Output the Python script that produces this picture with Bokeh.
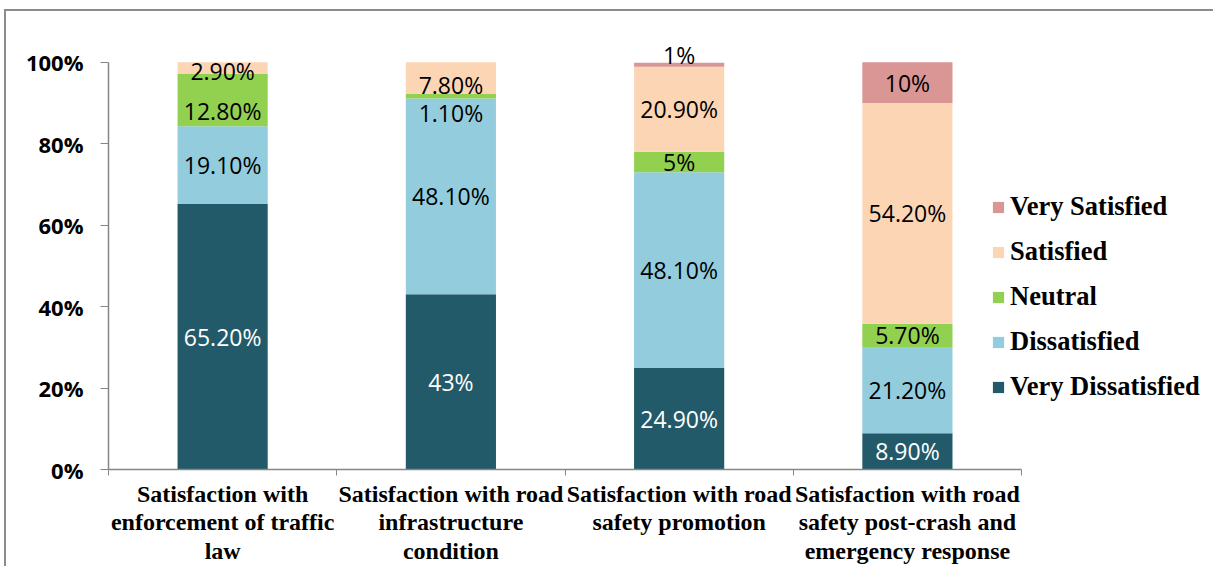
from bokeh.plotting import figure
from bokeh.models import ColumnDataSource, FixedTicker, NumeralTickFormatter, Legend, LegendItem, Range1d
from bokeh.core.properties import value
from bokeh.embed import file_html
from bokeh.resources import INLINE

categories = [
    "Satisfaction with\nenforcement of traffic\nlaw",
    "Satisfaction with road\ninfrastructure\ncondition",
    "Satisfaction with road\nsafety promotion",
    "Satisfaction with road\nsafety post-crash and\nemergency response",
]
levels = ["Very Dissatisfied", "Dissatisfied", "Neutral", "Satisfied", "Very Satisfied"]
very_dissatisfied = [65.2, 43.0, 24.9, 8.9]
dissatisfied = [19.1, 48.1, 48.1, 21.2]
neutral = [12.8, 1.1, 5.0, 5.7]
satisfied = [2.9, 7.8, 20.9, 54.2]
very_satisfied = [0.0, 0.0, 1.0, 10.0]
y_ticks = [0, 0.2, 0.4, 0.6, 0.8, 1.0]

series = [very_dissatisfied, dissatisfied, neutral, satisfied, very_satisfied]
colors = ["#235A69", "#93CDDD", "#92D050", "#FCD5B5", "#D99694"]
label_colors = ["white", "black", "black", "black", "black"]
# pixel nudges of small labels (category index, level index) -> screen px
label_nudge = {(0, 3): 3, (0, 2): 11, (1, 3): 7, (1, 2): 17, (2, 4): -10}

LABEL_FONT = "Open Sans"
SERIF = "Liberation Serif"
FRAME_GRAY = "#8c8c8c"

n = len(categories)
xs = [i + 0.5 for i in range(n)]

p = figure(width=1213, height=566, output_backend="svg", toolbar_location=None,
           x_range=Range1d(0, 4.841), y_range=Range1d(0, 1.1),
           min_border_left=108, min_border_right=0, min_border_top=21, min_border_bottom=95)
p.outline_line_color = None
p.xgrid.visible = False
p.ygrid.visible = False
p.background_fill_color = "white"
p.border_fill_alpha = 0
p.styles = {
    "background": (f"linear-gradient({FRAME_GRAY},{FRAME_GRAY}) 4px 9px / 2px 100% no-repeat, "
                   f"linear-gradient({FRAME_GRAY},{FRAME_GRAY}) 4px 9px / 100% 2px no-repeat, white"),
}

renderers = []
bottoms = [0.0] * n
lx, ly, lt, lc, lo = [], [], [], [], []
for li, vals in enumerate(series):
    tops = [b + v / 100.0 for b, v in zip(bottoms, vals)]
    src = ColumnDataSource(dict(x=xs, bottom=bottoms, top=tops))
    r = p.vbar(x="x", width=0.395, bottom="bottom", top="top", source=src,
               fill_color=colors[li], line_color=None)
    renderers.append(r)
    for ci, v in enumerate(vals):
        if v <= 0:
            continue
        lx.append(xs[ci])
        ly.append((bottoms[ci] + tops[ci]) / 2)
        lt.append(("%g%%" % v) if float(v).is_integer() else ("%.2f%%" % v))
        lc.append(label_colors[li])
        lo.append(label_nudge.get((ci, li), 0))
    bottoms = tops

lsrc = ColumnDataSource(dict(x=lx, y=ly, t=lt, c=lc, o=lo))
p.text(x="x", y="y", text="t", source=lsrc, text_color="c", y_offset="o",
       text_align="center", text_baseline="middle",
       text_font=value(LABEL_FONT), text_font_size="23px")

# x axis
xa = p.xaxis[0]
xa.bounds = (0, n)
xa.ticker = FixedTicker(ticks=xs, minor_ticks=list(range(n + 1)))
xa.major_label_overrides = {x: c for x, c in zip(xs, categories)}
xa.major_tick_line_color = None
xa.major_tick_out = 0
xa.major_tick_in = 0
xa.minor_tick_line_color = "#868686"
xa.minor_tick_out = 6
xa.minor_tick_in = 0
xa.axis_line_color = "#868686"
xa.axis_line_width = 1.5
xa.major_label_text_font = SERIF
xa.major_label_text_font_style = "bold"
xa.major_label_text_font_size = "24px"
xa.major_label_text_color = "black"
xa.major_label_text_line_height = 1.1
xa.major_label_standoff = 5

# y axis
ya = p.yaxis[0]
ya.ticker = FixedTicker(ticks=y_ticks)
ya.bounds = (0, 1)
ya.formatter = NumeralTickFormatter(format="0%")
ya.major_tick_out = 8
ya.major_tick_in = 0
ya.minor_tick_line_color = None
ya.major_tick_line_color = "#868686"
ya.axis_line_color = "#868686"
ya.axis_line_width = 1.5
ya.major_label_text_font = LABEL_FONT
ya.major_label_text_font_style = "bold"
ya.major_label_text_font_size = "22px"
ya.major_label_text_color = "black"
ya.major_label_standoff = 17

items = [LegendItem(label=levels[i], renderers=[renderers[i]]) for i in reversed(range(len(levels)))]
legend = Legend(items=items, location=(883, 67), orientation="vertical",
                glyph_width=14, glyph_height=14, label_height=30, spacing=14,
                padding=0, margin=0, label_standoff=5,
                border_line_color=None, background_fill_alpha=0,
                label_text_font=SERIF, label_text_font_style="bold",
                label_text_font_size="26.5px", label_text_color="black")
p.add_layout(legend)

open("out.html", "w").write(file_html(p, INLINE))
